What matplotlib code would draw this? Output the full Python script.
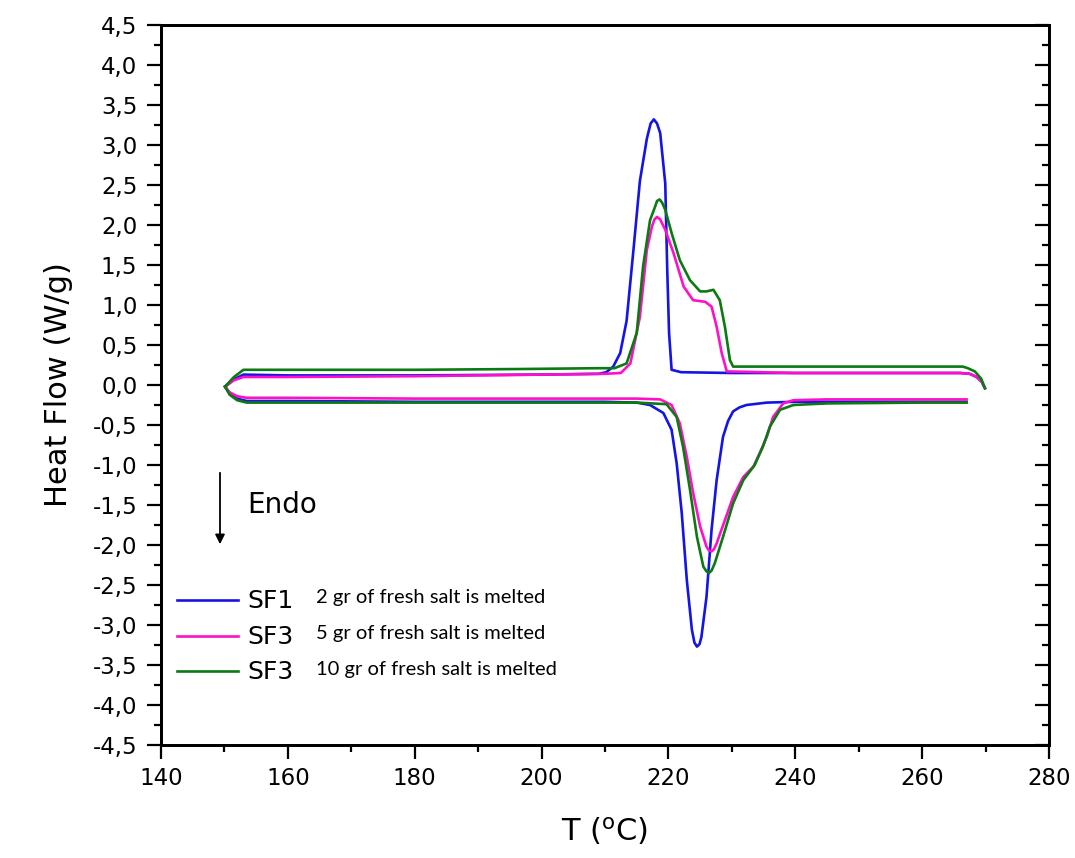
import matplotlib
matplotlib.use("Agg")
import matplotlib.pyplot as plt
from matplotlib.lines import Line2D
from matplotlib.ticker import MultipleLocator, FuncFormatter

# ---------------- data ----------------
series_names = ["SF1", "SF3", "SF3"]
series_desc = ["2 gr of fresh salt is melted",
               "5 gr of fresh salt is melted",
               "10 gr of fresh salt is melted"]
series_colors = ["#1414e6", "#ff10c8", "#0c7a12"]

# SF1 (blue) - heating branch (lower, endothermic)
sf1_heat_T = [150.1, 150.8, 152.0, 153.5, 160, 180, 200, 210, 215, 217.1, 219.2, 220.5, 221.3, 222.1,
              222.9, 223.7, 224.1, 224.5, 224.9, 225.2, 226.0, 226.8, 227.6, 228.6, 229.4, 230.2, 231.2,
              232.3, 235.5, 240, 250, 260, 267]
sf1_heat_HF = [-0.02, -0.10, -0.17, -0.20, -0.20, -0.21, -0.21, -0.21, -0.22, -0.25, -0.35, -0.56, -0.98, -1.60,
               -2.44, -3.06, -3.22, -3.27, -3.24, -3.15, -2.65, -1.81, -1.19, -0.65, -0.45, -0.33, -0.28,
               -0.25, -0.22, -0.21, -0.21, -0.21, -0.21]
# SF1 (blue) - cooling branch (upper, exothermic)
sf1_cool_T = [269.9, 269.4, 268.6, 267.5, 266, 260, 240, 230, 222, 220.5, 220.1, 219.8, 219.5, 218.7, 218.2,
              217.7, 217.2, 216.6, 215.5, 214.5, 213.4, 212.4, 211.3, 210.2, 209, 200, 180, 160, 153.0,
              151.5, 150.1]
sf1_cool_HF = [-0.04, 0.04, 0.10, 0.14, 0.15, 0.15, 0.15, 0.15, 0.16, 0.19, 0.65, 1.48, 2.52, 3.15, 3.27,
               3.32, 3.27, 3.08, 2.55, 1.70, 0.80, 0.40, 0.23, 0.16, 0.14, 0.13, 0.12, 0.12, 0.13,
               0.07, -0.02]

# SF3 5 gr (magenta)
sf3a_heat_T = [150.1, 150.8, 152.0, 153.5, 160, 180, 200, 215, 218.7, 220.5, 221.8, 222.9, 223.9, 225.0,
               226.0, 226.4, 226.8, 227.2, 227.6, 228.9, 230.2, 231.8, 233.4, 234.4, 235.5, 236.5, 238.1,
               239.7, 245, 260, 267]
sf3a_heat_HF = [-0.02, -0.09, -0.14, -0.16, -0.16, -0.17, -0.17, -0.17, -0.18, -0.25, -0.48, -0.90, -1.35, -1.77,
                -2.02, -2.07, -2.08, -2.05, -1.98, -1.69, -1.40, -1.15, -1.02, -0.85, -0.65, -0.40, -0.23,
                -0.19, -0.18, -0.18, -0.18]
sf3a_cool_T = [269.9, 269.4, 268.6, 267.5, 266, 260, 240, 229.2, 228.4, 227.6, 226.8, 225.8, 223.9, 222.4,
               220.8, 219.5, 218.7, 218.2, 217.8, 217.4, 216.6, 215.5, 214.0, 212.5, 210, 200, 180, 160,
               153, 151.5, 150.1]
sf3a_cool_HF = [-0.04, 0.04, 0.10, 0.14, 0.15, 0.15, 0.15, 0.17, 0.40, 0.73, 0.98, 1.04, 1.06, 1.23,
                1.65, 1.94, 2.07, 2.10, 2.07, 1.98, 1.69, 0.85, 0.27, 0.15, 0.14, 0.13, 0.11, 0.10,
                0.10, 0.06, -0.02]

# SF3 10 gr (green)
sf3b_heat_T = [150.1, 150.8, 152.0, 153.5, 160, 180, 200, 215, 219.7, 221.3, 222.3, 223.4, 224.5, 225.5,
               226.0, 226.4, 226.8, 227.3, 228.6, 230.2, 231.8, 233.6, 234.9, 236.0, 237.6, 239.7, 245,
               260, 267]
sf3b_heat_HF = [-0.02, -0.12, -0.19, -0.22, -0.22, -0.22, -0.22, -0.22, -0.24, -0.40, -0.77, -1.31, -1.90, -2.27,
                -2.33, -2.35, -2.32, -2.23, -1.90, -1.48, -1.19, -1.00, -0.77, -0.52, -0.31, -0.25, -0.23,
                -0.22, -0.22]
sf3b_cool_T = [269.9, 269.3, 268.3, 267.2, 266.4, 260, 240, 230.2, 229.7, 228.9, 228.1, 227.1, 226.0, 225.0,
               223.4, 221.8, 220.5, 219.5, 219.0, 218.6, 218.2, 217.9, 217.1, 216.0, 215.0, 213.4, 211.5,
               209, 197, 180, 160, 153, 151.5, 150.1]
sf3b_cool_HF = [-0.04, 0.08, 0.17, 0.21, 0.23, 0.23, 0.23, 0.23, 0.31, 0.73, 1.06, 1.19, 1.17, 1.17,
                1.31, 1.56, 1.90, 2.19, 2.28, 2.32, 2.30, 2.23, 2.06, 1.48, 0.65, 0.27, 0.21,
                0.21, 0.20, 0.19, 0.19, 0.19, 0.10, -0.02]

x_ticks = [140, 160, 180, 200, 220, 240, 260, 280]
y_ticks = [-4.5, -4.0, -3.5, -3.0, -2.5, -2.0, -1.5, -1.0, -0.5, 0.0, 0.5, 1.0, 1.5, 2.0, 2.5, 3.0, 3.5, 4.0, 4.5]

# ---------------- figure ----------------
W, H = 1075, 858
fig = plt.figure(figsize=(W / 100, H / 100), dpi=100)
L, R, T, B = 161, 1049, 25, 745
ax = fig.add_axes([L / W, 1 - B / H, (R - L) / W, (B - T) / H])

branches = [
    (sf1_heat_T, sf1_heat_HF, sf1_cool_T, sf1_cool_HF),
    (sf3a_heat_T, sf3a_heat_HF, sf3a_cool_T, sf3a_cool_HF),
    (sf3b_heat_T, sf3b_heat_HF, sf3b_cool_T, sf3b_cool_HF),
]
lw = 1.9
for (ht, hh, ct, ch), col in zip(branches, series_colors):
    ax.plot(ht, hh, color=col, lw=lw, solid_joinstyle="round")
    ax.plot(ct, ch, color=col, lw=lw, solid_joinstyle="round")

ax.set_xlim(140, 280)
ax.set_ylim(-4.5, 4.5)
ax.set_xticks(x_ticks)
ax.set_yticks(y_ticks)
ax.xaxis.set_minor_locator(MultipleLocator(10))
ax.yaxis.set_minor_locator(MultipleLocator(0.25))
ax.yaxis.set_major_formatter(FuncFormatter(lambda v, p: f"{v:.1f}".replace(".", ",")))

for s in ax.spines.values():
    s.set_linewidth(2.0)
ax.tick_params(which="major", direction="out", length=10, width=1.6, labelsize=16.5, pad=6)
ax.tick_params(which="minor", direction="out", length=5, width=1.6)
ax.tick_params(axis="y", which="major", pad=7)

ax2 = ax.twinx()
ax2.set_ylim(-4.5, 4.5)
ax2.set_yticks(y_ticks)
ax2.yaxis.set_minor_locator(MultipleLocator(0.25))
ax2.tick_params(which="major", direction="in", length=10, width=1.6, labelright=False)
ax2.tick_params(which="minor", direction="in", length=5, width=1.6)
for s in ax2.spines.values():
    s.set_linewidth(2.0)

ax.set_ylabel("Heat Flow (W/g)", fontsize=22, labelpad=14)
ax.set_xlabel(r"T ($^{\rm o}$C)", fontsize=22, labelpad=18)

# Endo arrow
def px2ax(x, y):
    return (x - L) / (R - L), (B - y) / (B - T)

ax.annotate("", xy=px2ax(220, 547), xytext=px2ax(220, 470), xycoords="axes fraction",
            textcoords="axes fraction",
            arrowprops=dict(arrowstyle="-|>", color="black", lw=1.3, mutation_scale=14))
ax.text(*px2ax(247, 505), "Endo", transform=ax.transAxes, fontsize=20, va="center", ha="left")

# legend
leg_y = [600, 636, 671]
for yy, name, desc, col in zip(leg_y, series_names, series_desc, series_colors):
    x0, y0 = px2ax(177, yy)
    x1, _ = px2ax(238, yy)
    ax.add_line(Line2D([x0, x1], [y0, y0], transform=ax.transAxes, color=col, lw=1.9))
    ax.text(*px2ax(247, yy + 1), name, transform=ax.transAxes, fontsize=18, va="center", ha="left")
    ax.text(*px2ax(316, yy - 2), desc, transform=ax.transAxes, fontsize=14.5, va="center", ha="left",
            family=["Lato", "DejaVu Sans"])

fig.savefig("out.png", dpi=100)
